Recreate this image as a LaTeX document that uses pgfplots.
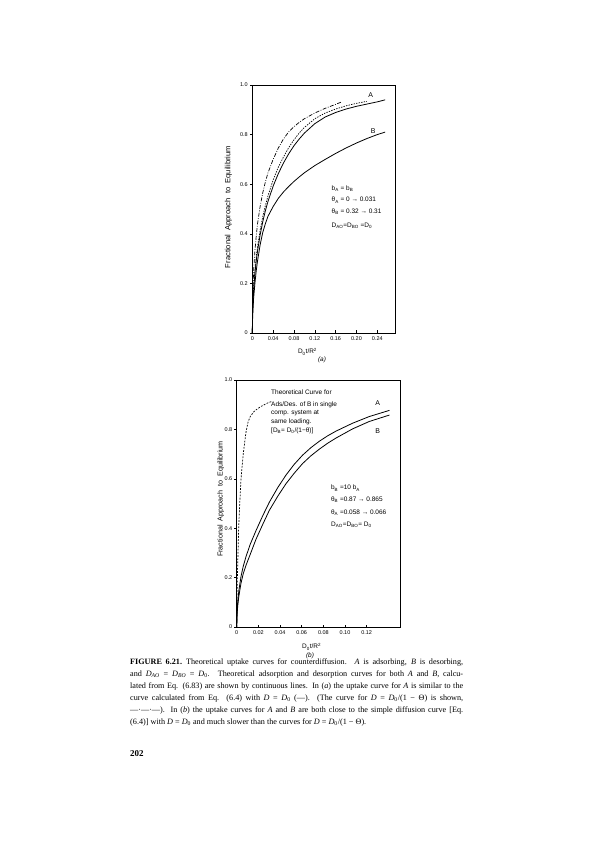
\documentclass[border=0pt]{standalone}
\usepackage{pgfplots}
\pgfplotsset{compat=1.18}
\usepackage{fontspec}
\setmainfont{Liberation Serif}
\setsansfont{Liberation Sans}

\newcommand\pf{\sffamily\fontsize{6.5}{9}\selectfont}

\pgfplotsset{
  pstyle/.style={
    scale only axis,
    clip=false,
    axis line style={line width=0.6pt},
    tick align=inside,
    xtick pos=left, ytick pos=left,
    major tick length=2.5pt,
    every tick/.style={black, line width=0.5pt},
    y tick style={xshift=-2.5pt},
    y tick label style={xshift=-1pt},
    ticklabel style={font=\sffamily\fontsize{5.5}{6}\selectfont},
    ymin=0, ymax=1,
    ytick={0,0.2,0.4,0.6,0.8,1},
    yticklabels={0,0.2,0.4,0.6,0.8,1.0},
  },
  curve/.style={black, line width=0.8pt, line join=round},
}

\begin{document}
\begin{tikzpicture}[x=1bp, y=1bp]
\fill[white] (0,0) rectangle (595,842);
\useasboundingbox (0,0) rectangle (595,842);

% (a)
\begin{axis}[pstyle,
  at={(252.3bp,509bp)}, anchor=south west,
  width=142.7bp, height=248bp,
  xmin=0, xmax=0.274,
  xtick={0,0.04,0.08,0.12,0.16,0.20,0.24},
  xticklabels={0,0.04,0.08,0.12,0.16,0.20,0.24}]

% A
\addplot[curve] coordinates {
  (0,0) (0.0005,0.075) (0.001,0.11) (0.0025,0.17) (0.005,0.24) (0.0075,0.29)
  (0.01,0.33) (0.015,0.395) (0.02,0.448) (0.025,0.492) (0.03,0.53)
  (0.04,0.592) (0.05,0.643) (0.06,0.686) (0.07,0.723)
  (0.08,0.755) (0.09,0.782) (0.10,0.806) (0.12,0.844) (0.14,0.871) (0.16,0.889)
  (0.18,0.903) (0.20,0.914) (0.22,0.923) (0.24,0.932) (0.255,0.94)
};
% D = D0
\addplot[curve, line width=0.7pt, dash pattern=on 1.4pt off 1.2pt] coordinates {
  (0,0) (0.0005,0.085) (0.001,0.12) (0.0025,0.183) (0.005,0.253) (0.0075,0.305)
  (0.01,0.348) (0.015,0.414) (0.02,0.468) (0.025,0.513) (0.03,0.552)
  (0.04,0.617) (0.05,0.669) (0.06,0.71) (0.07,0.748)
  (0.08,0.779) (0.09,0.806) (0.10,0.829) (0.12,0.864) (0.14,0.887) (0.16,0.903)
  (0.18,0.916) (0.20,0.926) (0.22,0.934)
};
% D = D0/(1-theta)
\addplot[curve, line width=0.7pt, dash pattern=on 4pt off 1.5pt on 0.8pt off 1.5pt] coordinates {
  (0,0) (0.0005,0.11) (0.001,0.16) (0.0025,0.25) (0.005,0.33) (0.0075,0.39)
  (0.01,0.44) (0.015,0.51) (0.02,0.565) (0.025,0.608) (0.03,0.645)
  (0.04,0.70) (0.05,0.746) (0.06,0.783) (0.07,0.811)
  (0.08,0.832) (0.09,0.849) (0.10,0.864) (0.12,0.887) (0.14,0.906) (0.16,0.922)
  (0.172,0.932)
};
% B
\addplot[curve] coordinates {
  (0,0) (0.0005,0.055) (0.001,0.08) (0.0025,0.14) (0.005,0.2) (0.0075,0.25)
  (0.01,0.29) (0.015,0.355) (0.02,0.405) (0.025,0.44) (0.03,0.47)
  (0.04,0.51) (0.05,0.543) (0.06,0.569) (0.07,0.591)
  (0.08,0.611) (0.09,0.629) (0.10,0.646) (0.12,0.675) (0.14,0.70) (0.16,0.724)
  (0.18,0.746) (0.20,0.766) (0.22,0.784) (0.24,0.80) (0.255,0.81)
};

\node[font=\sffamily\fontsize{7}{8}\selectfont] at (axis cs:0.2273,0.96) {A};
\node[font=\sffamily\fontsize{7}{8}\selectfont] at (axis cs:0.2323,0.8157) {B};

\node[font=\pf, anchor=base west, inner sep=0pt] at (axis cs:0.152,0.5754) {b\textsubscript{A} = b\textsubscript{B}};
\node[font=\pf, anchor=base west, inner sep=0pt] at (axis cs:0.152,0.5282) {θ\textsubscript{A} = 0 → 0.031};
\node[font=\pf, anchor=base west, inner sep=0pt] at (axis cs:0.152,0.4810) {θ\textsubscript{B} = 0.32 → 0.31};
\node[font=\pf, anchor=base west, inner sep=0pt] at (axis cs:0.152,0.4246) {D\textsubscript{AO}=D\textsubscript{BO} =D\textsubscript{0}};

\node[font=\pf] at (axis cs:0.106,-0.0754) {D\textsubscript{0}t/R\textsuperscript{2}};
\node[font=\pf\itshape] at (axis cs:0.1339,-0.1089) {(a)};
\node[font=\sffamily\fontsize{7.6}{9}\selectfont, rotate=90] at (rel axis cs:-0.168,0.508) {Fractional\ \ Approach\ \ to\ \ Equilibrium};
\end{axis}

% (b)
\begin{axis}[pstyle,
  at={(236.7bp,215bp)}, anchor=south west,
  width=163.3bp, height=247bp,
  xmin=0, xmax=0.1508,
  xtick={0,0.02,0.04,0.06,0.08,0.10,0.12},
  xticklabels={0,0.02,0.04,0.06,0.08,0.10,0.12}]

% A
\addplot[curve] coordinates {
  (0,0) (0.0005,0.075) (0.001,0.105) (0.002,0.148) (0.004,0.205) (0.006,0.245)
  (0.0086,0.285) (0.0125,0.335) (0.0178,0.39) (0.024,0.45) (0.0301,0.505)
  (0.038,0.565) (0.0455,0.615) (0.053,0.658) (0.0609,0.696) (0.0685,0.726)
  (0.0763,0.752) (0.084,0.774) (0.0917,0.793) (0.107,0.825) (0.1224,0.852)
  (0.141,0.877)
};
% B
\addplot[curve] coordinates {
  (0,0) (0.0005,0.06) (0.001,0.088) (0.002,0.125) (0.004,0.178) (0.006,0.215)
  (0.0086,0.25) (0.0117,0.285) (0.0178,0.355) (0.024,0.415) (0.0301,0.472)
  (0.038,0.53) (0.0455,0.58) (0.053,0.622) (0.0609,0.662) (0.0685,0.693)
  (0.0763,0.72) (0.084,0.744) (0.0917,0.765) (0.107,0.802) (0.1224,0.832)
  (0.141,0.858)
};
% single-component theory
\addplot[curve, line width=0.7pt, dash pattern=on 1.8pt off 1.4pt] coordinates {
  (0,0) (0.0002,0.1) (0.0006,0.2) (0.0012,0.3) (0.0018,0.4) (0.0028,0.5)
  (0.004,0.6) (0.006,0.7) (0.0086,0.79) (0.0105,0.83) (0.0125,0.852)
  (0.0163,0.874) (0.022,0.892) (0.0286,0.907) (0.033,0.914)
};

\node[font=\sffamily\fontsize{7}{8}\selectfont] at (axis cs:0.1302,0.907) {A};
\node[font=\sffamily\fontsize{7}{8}\selectfont] at (axis cs:0.1302,0.7947) {B};

\node[font=\pf, anchor=base west, inner sep=0pt] at (axis cs:0.0317,0.9393) {Theoretical\ Curve\ for};
\node[font=\pf, anchor=base west, inner sep=0pt] at (axis cs:0.0317,0.8947) {Ads/Des. of\ B\ in single};
\node[font=\pf, anchor=base west, inner sep=0pt] at (axis cs:0.0317,0.8611) {comp. system at};
\node[font=\pf, anchor=base west, inner sep=0pt] at (axis cs:0.0317,0.8247) {same loading.};
\node[font=\pf, anchor=base west, inner sep=0pt] at (axis cs:0.0317,0.7883) {[D\textsubscript{B}= D\textsubscript{0}/(1−θ)]};

\node[font=\pf, anchor=base west, inner sep=0pt] at (axis cs:0.087,0.5547) {b\textsubscript{B} =10 b\textsubscript{A}};
\node[font=\pf, anchor=base west, inner sep=0pt] at (axis cs:0.087,0.5073) {θ\textsubscript{B} =0.87 → 0.865};
\node[font=\pf, anchor=base west, inner sep=0pt] at (axis cs:0.087,0.4563) {θ\textsubscript{A} =0.058 → 0.066};
\node[font=\pf, anchor=base west, inner sep=0pt] at (axis cs:0.087,0.4061) {D\textsubscript{AO}=D\textsubscript{BO}= D\textsubscript{0}};

\node[font=\pf] at (axis cs:0.0692,-0.0798) {D\textsubscript{0}t/R\textsuperscript{2}};
\node[font=\pf\itshape] at (axis cs:0.0677,-0.1163) {(b)};
\node[font=\sffamily\fontsize{7.2}{9}\selectfont, rotate=90] at (rel axis cs:-0.098,0.518) {Fractional\ \ Approach\ \ to\ \ Equilibrium};
\end{axis}

% caption
\node[anchor=north west, inner sep=0pt, text width=333bp, align=justify,
      font=\fontsize{8.2}{12}\selectfont] at (130bp,183bp) {%
\textbf{FIGURE 6.21.}\enspace Theoretical uptake curves for counterdiffusion. \textit{A} is adsorbing, \textit{B} is desorbing,\linebreak
and \textit{D}\textsubscript{\textit{AO}} = \textit{D}\textsubscript{\textit{BO}} = \textit{D}\textsubscript{0}. Theoretical adsorption and desorption curves for both \textit{A} and \textit{B}, calcu-\linebreak
lated from Eq. (6.83) are shown by continuous lines. In (\textit{a}) the uptake curve for \textit{A} is similar to the\linebreak
curve calculated from Eq. (6.4) with \textit{D} = \textit{D}\textsubscript{0} (---). (The curve for \textit{D} = \textit{D}\textsubscript{0}/(1 − Θ) is shown,\linebreak
---·---·---). In (\textit{b}) the uptake curves for \textit{A} and \textit{B} are both close to the simple diffusion curve [Eq.\linebreak
(6.4)] with \textit{D} = \textit{D}\textsubscript{0} and much slower than the curves for \textit{D} = \textit{D}\textsubscript{0}/(1 − Θ).};

\node[anchor=base west, inner sep=0pt, font=\bfseries\fontsize{9}{10}\selectfont] at (130bp,85bp) {202};
\end{tikzpicture}
\end{document}
